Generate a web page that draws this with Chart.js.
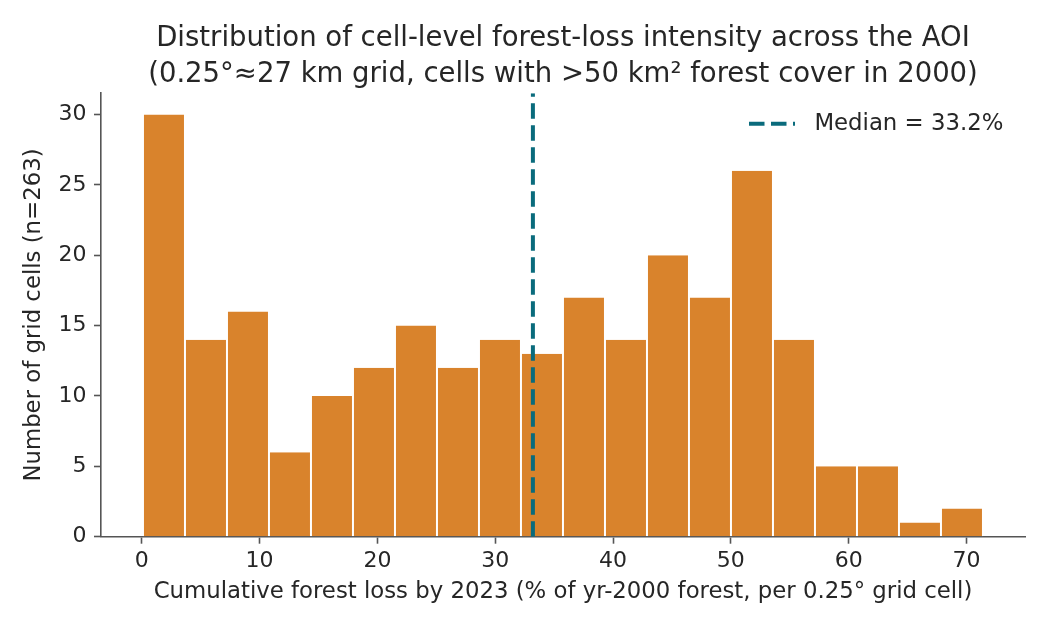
<!DOCTYPE html>
<html>
<head>
<meta charset="utf-8">
<script src="https://cdn.jsdelivr.net/npm/chart.js@4.4.1/dist/chart.umd.min.js"></script>
<style>
  html, body { margin: 0; padding: 0; background: #ffffff; }
  #wrap { width: 1050px; height: 630px; }
</style>
</head>
<body>
<div id="wrap"><canvas id="c" width="1050" height="630"></canvas></div>
<script>
// ---- data ----
const titleLines = [
  'Distribution of cell-level forest-loss intensity across the AOI',
  '(0.25°≈27 km grid, cells with >50 km² forest cover in 2000)'
];
const xTitle = 'Cumulative forest loss by 2023 (% of yr-2000 forest, per 0.25° grid cell)';
const yTitle = 'Number of grid cells (n=263)';
const binEdges = [0.1, 3.67, 7.23, 10.8, 14.36, 17.93, 21.49, 25.06, 28.62, 32.19, 35.75,
                  39.32, 42.88, 46.45, 50.01, 53.58, 57.14, 60.71, 64.27, 67.84, 71.4];
const counts = [30, 14, 16, 6, 10, 12, 15, 12, 14, 13, 17, 14, 20, 17, 26, 14, 5, 5, 1, 2];
const medianValue = 33.2;
const xMin = -3.46, xMax = 74.97;
const yMin = 0, yMax = 31.5;
const xStep = 10, yStep = 5;

// ---- styles ----
const FONT = "'DejaVu Sans', 'Liberation Sans', sans-serif";
const barColor = '#d9832c';
const medianColor = '#0a6b7c';
const textColor = '#262626';
const spineColor = '#555555';

Chart.defaults.font.family = FONT;
Chart.defaults.color = textColor;

const barData = counts.map((c, i) => ({ x: (binEdges[i] + binEdges[i + 1]) / 2, y: c }));
const medianData = [{ x: medianValue, y: yMin }, { x: medianValue, y: yMax }];
const medianLabel = 'Median = ' + medianValue.toFixed(1) + '%';

// legend symbol: dashed line sample
const sym = document.createElement('canvas');
sym.width = 54; sym.height = 8;
(function () {
  const g = sym.getContext('2d');
  g.strokeStyle = medianColor;
  g.lineWidth = 4;
  g.setLineDash([15.5, 6.5]);
  g.beginPath();
  g.moveTo(0, 4);
  g.lineTo(46, 4);
  g.stroke();
})();

const legendPlacer = {
  id: 'legendPlacer',
  afterLayout(chart) {
    const lg = chart.legend, ca = chart.chartArea;
    if (!lg) return;
    const w = lg.width, h = lg.height;
    lg.left = ca.right - 286;
    lg.right = lg.left + w;
    lg.top = ca.top + 9;
    lg.bottom = lg.top + h;
  }
};

new Chart(document.getElementById('c'), {
  type: 'bar',
  data: {
    datasets: [
      {
        type: 'line',
        label: medianLabel,
        data: medianData,
        borderColor: medianColor,
        borderWidth: 4,
        borderDash: [15.5, 6.5],
        pointRadius: 0,
        fill: false,
        order: 0
      },
      {
        type: 'bar',
        label: 'cells',
        data: barData,
        backgroundColor: barColor,
        borderColor: '#ffffff',
        borderWidth: { left: 1, right: 1, top: 0, bottom: 0 },
        borderSkipped: 'start',
        inflateAmount: 0,
        barPercentage: 1,
        categoryPercentage: 1,
        order: 1
      }
    ]
  },
  options: {
    responsive: false,
    animation: false,
    devicePixelRatio: 1,
    layout: { padding: { left: 0, right: 25, top: 0, bottom: 0 } },
    scales: {
      x: {
        type: 'linear',
        min: xMin,
        max: xMax,
        offset: false,
        grid: { display: true, offset: false, drawOnChartArea: false, drawTicks: true, tickLength: 7, tickWidth: 1.6, tickColor: spineColor },
        border: { display: true, color: spineColor, width: 1.6 },
        ticks: { stepSize: xStep, includeBounds: false, font: { size: 22 }, color: textColor, padding: 4.4, maxRotation: 0 },
        title: { display: true, text: xTitle, font: { size: 22.8, lineHeight: 1.2 }, color: textColor, padding: { top: 0, bottom: 24.6 } },
        afterFit(scale) { scale.height = 93.3; }
      },
      y: {
        type: 'linear',
        min: yMin,
        max: yMax,
        grid: { display: true, drawOnChartArea: false, drawTicks: true, tickLength: 7, tickWidth: 1.6, tickColor: spineColor },
        border: { display: true, color: spineColor, width: 1.6 },
        ticks: { stepSize: yStep, includeBounds: false, font: { size: 22 }, color: textColor, padding: 7.5 },
        title: { display: true, text: yTitle, font: { size: 22.8, lineHeight: 1.2 }, color: textColor, padding: { top: 20.2, bottom: 0 } },
        afterFit(scale) { scale.width = 101; }
      }
    },
    plugins: {
      title: {
        display: true,
        fullSize: false,
        text: titleLines,
        font: { size: 27.5, weight: 'normal', lineHeight: 1.309 },
        color: textColor,
        padding: { top: 20.7, bottom: 0.6 }
      },
      legend: {
        display: true,
        position: 'chartArea',
        align: 'start',
        labels: {
          usePointStyle: true,
          pointStyleWidth: 54,
          padding: 10,
          font: { size: 22.8 },
          color: textColor,
          generateLabels() {
            return [{
              text: medianLabel,
              pointStyle: sym,
              fillStyle: 'rgba(0,0,0,0)',
              strokeStyle: 'rgba(0,0,0,0)',
              lineWidth: 0,
              hidden: false,
              datasetIndex: 0,
              fontColor: textColor
            }];
          }
        }
      },
      tooltip: { enabled: false }
    }
  },
  plugins: [legendPlacer]
});
</script>
</body>
</html>
